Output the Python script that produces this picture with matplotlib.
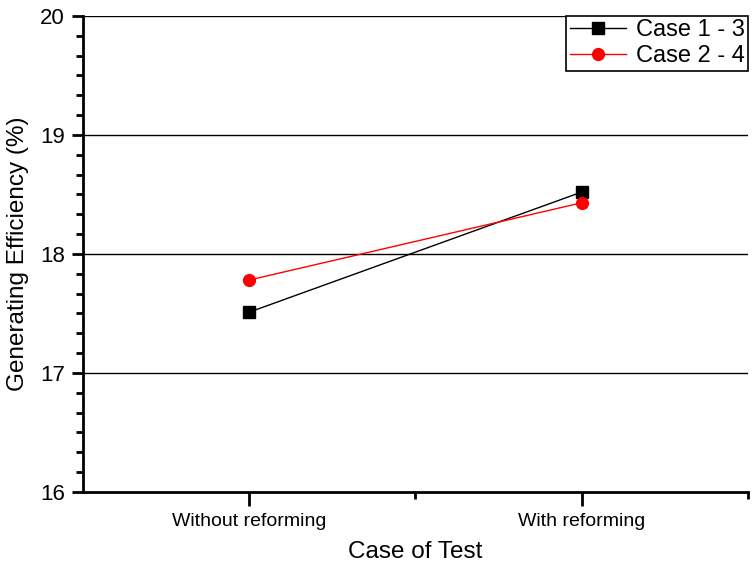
import matplotlib.pyplot as plt
from matplotlib.ticker import MultipleLocator, FixedLocator

plt.rcParams['font.family'] = ['Liberation Sans', 'DejaVu Sans']

# Daten
kategorien = ['Without reforming', 'With reforming']
case_13 = [17.51, 18.52]
case_24 = [17.78, 18.43]

x = [1, 2]

fig = plt.figure(figsize=(7.52, 5.68), dpi=100)
ax = fig.add_axes([0.110, 0.134, 0.885, 0.838])

# Gitterlinien bei 17, 18, 19, 20
for yv in [17, 18, 19, 20]:
    ax.axhline(yv, color='black', lw=1, zorder=1)

ax.plot(x, case_13, color='black', lw=1, marker='s', markersize=8,
        label='Case 1 - 3', zorder=3)
ax.plot(x, case_24, color='red', lw=1, marker='o', markersize=8.5,
        label='Case 2 - 4', zorder=3)

ax.set_xlim(0.5, 2.5)
ax.set_ylim(16, 20)

ax.set_xticks(x)
ax.set_xticklabels(kategorien, fontsize=14)
ax.xaxis.set_minor_locator(FixedLocator([1.5, 2.5]))
ax.yaxis.set_major_locator(MultipleLocator(1))
ax.yaxis.set_minor_locator(MultipleLocator(1 / 6))
ax.tick_params(axis='y', labelsize=16)

ax.tick_params(which='major', direction='out', length=8, width=2)
ax.tick_params(which='minor', direction='out', length=5, width=2)
ax.tick_params(axis='x', which='major', length=10, pad=5)
ax.tick_params(axis='y', which='both', right=False, pad=5)

for s in ['top', 'right']:
    ax.spines[s].set_visible(False)
for s in ['left', 'bottom']:
    ax.spines[s].set_linewidth(2)

ax.set_xlabel('Case of Test', fontsize=17.5, labelpad=8)
ax.set_ylabel('Generating Efficiency (%)', fontsize=17.5, labelpad=8)

leg = ax.legend(loc='upper right', fontsize=17, frameon=True, fancybox=False,
                edgecolor='black', framealpha=1, borderaxespad=0,
                handlelength=2.4, handletextpad=0.4, borderpad=0.15,
                labelspacing=0.15, bbox_to_anchor=(1.0, 1.0))
leg.get_frame().set_linewidth(1.2)

plt.savefig('out.png', dpi=100)
